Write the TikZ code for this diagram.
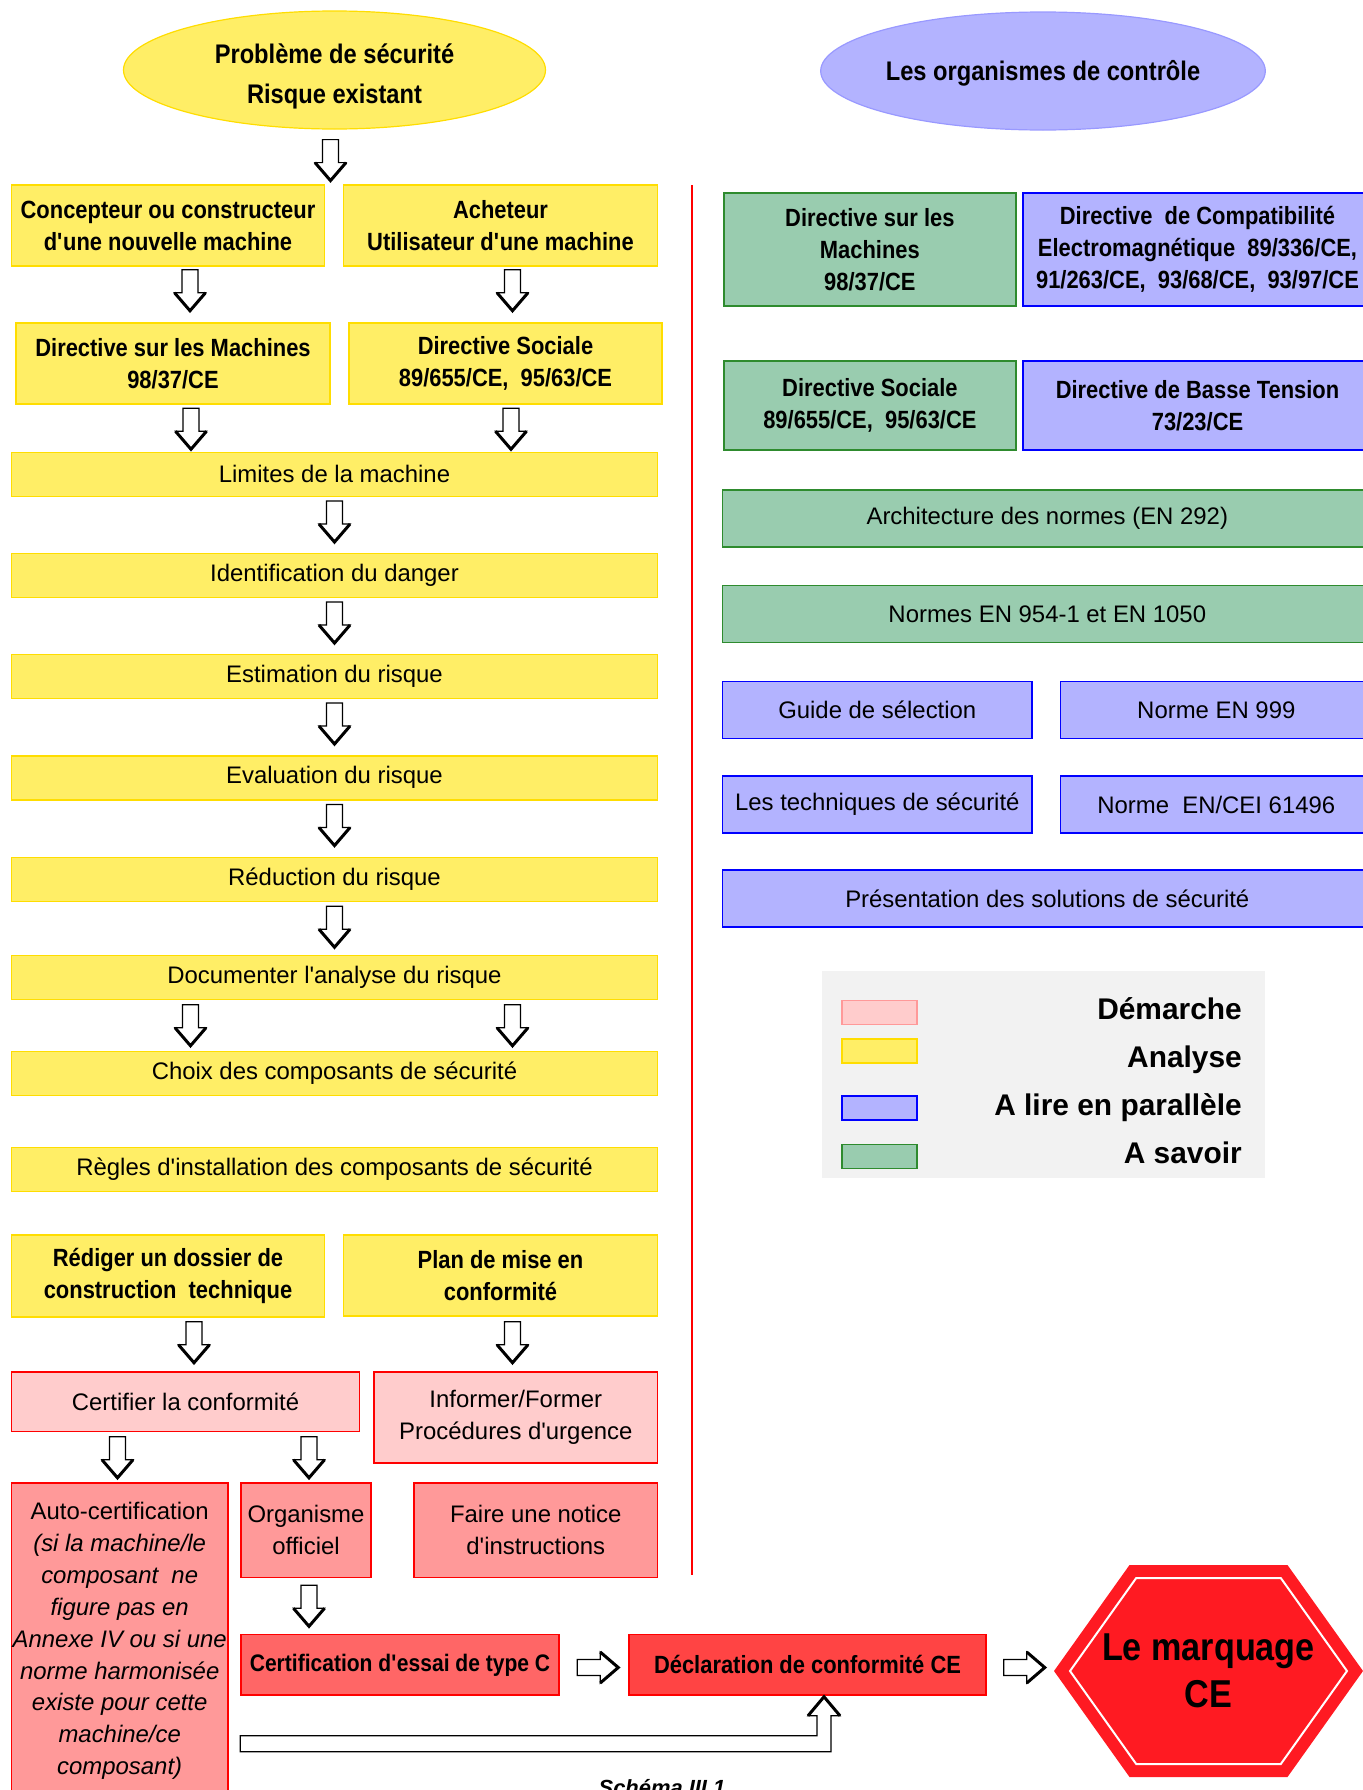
\documentclass[tikz,border=0pt]{standalone}
\usepackage{fontspec}
\setmainfont{Liberation Sans}
\newfontfamily\narrowfont{Liberation Sans}[FakeStretch=0.88]
\usepackage{xcolor}
\definecolor{cYellow}{HTML}{FFEE66}
\definecolor{cYellowD}{HTML}{FFDD00}
\definecolor{cPink}{HTML}{FFCCCC}
\definecolor{cRose}{HTML}{FF9999}
\definecolor{cCoral}{HTML}{FF6666}
\definecolor{cRed}{HTML}{FF4444}
\definecolor{cHex}{HTML}{FF1A22}
\definecolor{cLine}{HTML}{FF0000}
\definecolor{cBlue}{HTML}{B3B3FF}
\definecolor{cBlueD}{HTML}{0000FF}
\definecolor{cBlueL}{HTML}{9999FF}
\definecolor{cGreen}{HTML}{99CCAF}
\definecolor{cGreenD}{HTML}{2E8B2E}
\definecolor{cLegend}{HTML}{F2F2F2}
\usepackage{tikz}
\usetikzlibrary{calc,shapes.geometric}
\newcommand{\ap}{\textquotesingle}
\tikzset{
  txt-reg/.style={font=\fontsize{24}{32}\selectfont},
  txt-bold/.style={font=\fontsize{25}{32}\selectfont\narrowfont\bfseries},
  node-size/.style 2 args={minimum width=#1bp,minimum height=#2bp},
  node-box/.style={rectangle,inner sep=0pt,align=center,line width=1.5bp,txt-reg},
  node-ellipse/.style={ellipse,inner sep=0pt,align=center,line width=1.2bp,
    minimum width=422bp,minimum height=118bp,font=\fontsize{27}{40}\selectfont\narrowfont\bfseries},
  % codes couleur de la légende
  node-analyse/.style={fill=cYellow,draw=cYellowD},
  node-demarche/.style={fill=cPink,draw=cLine},
  node-demarche2/.style={fill=cRose,draw=cLine},
  node-lire/.style={fill=cBlue,draw=cBlueD},
  node-savoir/.style={fill=cGreen,draw=cGreenD},
  legend-swatch/.style={rectangle,inner sep=0pt,line width=1.2bp,node-size={75}{24}},
  legend-txt/.style={inner sep=0pt,font=\fontsize{30}{36}\selectfont\bfseries},
  block-line/.style={draw=black,fill=white,line width=1.2bp,line join=miter},
  block-head/.style={draw=black,line width=3bp,line join=miter},
  sep-line/.style={draw=cLine,line width=2bp},
  block-down/.pic={
    \draw[block-line] (-8,0) -- (-8,23) -- (-15.5,23) -- (0,41) -- (15.5,23) -- (8,23) -- (8,0) -- cycle;
    \draw[block-head] (-15.5,23) -- (0,41) -- (15.5,23);
  },
}

\begin{document}
\begin{tikzpicture}[x=1bp,y=-1bp]
  \useasboundingbox (0,0) rectangle (1363,1790);

  % colonne de gauche : la démarche
  \node[node-ellipse,fill=cYellow,draw=cYellowD] (pb) at (334.5,70) {\rule{0pt}{32bp}Problème de sécurité\\Risque existant};
  \node[node-box,node-analyse,txt-bold,node-size={313}{81}] (con) at (168,225.5) {Concepteur ou constructeur\\d\ap une nouvelle machine};
  \node[node-box,node-analyse,txt-bold,node-size={314}{81}] (ach) at (500.5,225.5) {Acheteur\\Utilisateur d\ap une machine};
  \node[node-box,node-analyse,txt-bold,node-size={314}{81}] (dm)  at (173,363.5) {Directive sur les Machines\\98/37/CE};
  \node[node-box,node-analyse,txt-bold,node-size={313}{81}] (ds)  at (505.5,363.5) {Directive Sociale\\89/655/CE,\ \ 95/63/CE};
  \node[node-box,node-analyse,node-size={646}{44}] (lim) at (334.5,474.3) {Limites de la machine};
  \node[node-box,node-analyse,node-size={646}{44}] (idf) at (334.5,575.3) {Identification du danger};
  \node[node-box,node-analyse,node-size={646}{44}] (est) at (334.5,676.3) {Estimation du risque};
  \node[node-box,node-analyse,node-size={646}{44}] (eva) at (334.5,777.8) {Evaluation du risque};
  \node[node-box,node-analyse,node-size={646}{44}] (rdc) at (334.5,879.5) {Réduction du risque};
  \node[node-box,node-analyse,node-size={646}{44}] (doc) at (334.5,977.5) {Documenter l\ap analyse du risque};
  \node[node-box,node-analyse,node-size={646}{44}] (cho) at (334.5,1073.5) {Choix des composants de sécurité};
  \node[node-box,node-analyse,node-size={646}{44}] (reg) at (334.5,1169.5) {Règles d\ap installation des composants de sécurité};
  \node[node-box,node-analyse,txt-bold,node-size={313}{82}] (rdg) at (168,1276) {Rédiger un dossier de\\construction\ \ technique};
  \node[node-box,node-analyse,txt-bold,node-size={314}{81}] (pla) at (500.5,1275.5) {Plan de mise en\\conformité};
  \node[node-box,node-demarche,node-size={348}{59.5}] (cer) at (185.5,1401.8) {Certifier la conformité};
  \node[node-box,node-demarche,node-size={283.5}{91}] (inf) at (515.8,1417.5) {Informer/Former\\Procédures d\ap urgence};
  \node[node-box,node-demarche2,node-size={216.6}{316}] (aut) at (119.7,1641) {Auto-certification\\\textit{(si la machine/le}\\\textit{composant\ \ ne}\\\textit{figure pas en}\\\textit{Annexe IV ou si une}\\\textit{norme harmonisée}\\\textit{existe pour cette}\\\textit{machine/ce}\\\textit{composant)}};
  \node[node-box,node-demarche2,node-size={130}{94.5}] (org) at (306,1530.3) {Organisme\\officiel};
  \node[node-box,node-demarche2,node-size={243.5}{94.5}] (fai) at (535.8,1530.3) {Faire une notice\\d\ap instructions};
  \node[node-box,fill=cCoral,draw=cLine,txt-bold,font=\fontsize{24}{32}\selectfont\narrowfont\bfseries,node-size={318}{60.4}] (cty) at (400,1664.8) {Certification d\ap essai de type C};
  \node[node-box,fill=cRed,draw=cLine,txt-bold,node-size={357}{60.4}] (dec) at (807.5,1664.8) {Déclaration de conformité CE};

  % le marquage CE
  \coordinate (mc) at (1208.5,1671);
  \fill[cHex] ($(mc)+(-154.5,0)$) -- ++(75.5,-106) -- ++(158,0) -- ++(75.5,106) -- ++(-75.5,106) -- ++(-158,0) -- cycle;
  \draw[white,line width=2bp] ($(mc)+(-138.5,0)$) -- ++(66.2,-93) -- ++(144.6,0) -- ++(66.2,93) -- ++(-66.2,93) -- ++(-144.6,0) -- cycle;
  \node[align=center,font=\fontsize{39}{47}\selectfont\narrowfont\bfseries] (marq) at (mc) {Le marquage\\CE};

  % flèches creuses
  \pic at ($(pb.south)+(-4,10)$) {block-down};
  \pic at ($(con.south)+(22,3)$) {block-down};
  \pic at ($(ach.south)+(12,3)$) {block-down};
  \pic at ($(dm.south)+(18,3.5)$) {block-down};
  \pic at ($(ds.south)+(5.5,3.5)$) {block-down};
  \foreach \a in {lim,idf,est,eva,rdc}
    \pic at ($(\a.south)+(0,4)$) {block-down};
  \pic at ($(doc.south)+(-144,4.5)$) {block-down};
  \pic at ($(doc.south)+(178,4.5)$) {block-down};
  \pic at ($(rdg.south)+(26,4)$) {block-down};
  \pic at ($(pla.south)+(12,5)$) {block-down};
  \pic at ($(cer.south)+(-68,4.5)$) {block-down};
  \pic at ($(cer.south)+(123.5,4.5)$) {block-down};
  \pic at ($(org.south)+(3,7)$) {block-down};
  \pic[rotate=90] at ($(cty.east)+(17.5,2.7)$) {block-down};
  \pic[rotate=90] at ($(dec.east)+(17,2.7)$) {block-down};
  \coordinate (rs) at ($(cty.south west)+(0,40)$);
  \draw[block-line] (rs) -- ($(dec.south)+(9.5,40)$) -- ++(0,-20) -- ++(-9,0) -- ++(16,-19)
    -- ++(16,19) -- ++(-9,0) -- ++(0,36) -- ($(rs)+(0,16)$) -- cycle;
  \draw[block-head] ($(dec.south)+(0.5,20)$) -- ++(16,-19) -- ++(16,19);

  % séparation
  \draw[sep-line] (692,185) -- (692,1575);

  % colonne de droite : les organismes de contrôle
  \node[node-ellipse,fill=cBlue,draw=cBlueL] (oc) at (1043,71) {\rule{0pt}{24bp}Les organismes de contrôle};
  \node[node-box,node-savoir,txt-bold,node-size={292.3}{113}] (gdm) at (869.9,249.5) {Directive sur les\\Machines\\98/37/CE};
  \node[node-box,node-lire,txt-bold,node-size={349}{113}] (gce) at (1197.5,249.5) {Directive\ \ de Compatibilité\\Electromagnétique\ \ 89/336/CE,\\91/263/CE,\ \ 93/68/CE,\ \ 93/97/CE};
  \node[node-box,node-savoir,txt-bold,node-size={292.3}{89}] (gds) at (869.9,405.3) {Directive Sociale\\89/655/CE,\ \ 95/63/CE};
  \node[node-box,node-lire,txt-bold,node-size={349}{89}] (gbt) at (1197.5,405.3) {Directive de Basse Tension\\73/23/CE};
  \node[node-box,node-savoir,node-size={649.4}{57}] (arc) at (1047.3,518.3) {Architecture des normes (EN 292)};
  \node[node-box,node-savoir,node-size={649.4}{57}] (nor) at (1047.3,614.2) {Normes EN 954-1 et EN 1050};
  \node[node-box,node-lire,node-size={309.4}{57}] (gui) at (877.3,710) {Guide de sélection};
  \node[node-box,node-lire,node-size={311.5}{57}] (n999) at (1216.3,710) {Norme EN 999};
  \node[node-box,node-lire,node-size={309.4}{57}] (tec) at (877.3,804.5) {Les techniques de sécurité};
  \node[node-box,node-lire,node-size={311.5}{57}] (n614) at (1216.3,804.5) {Norme\ \ EN/CEI 61496};
  \node[node-box,node-lire,node-size={649.4}{57}] (pre) at (1047.3,898.5) {Présentation des solutions de sécurité};

  % légende
  \fill[cLegend] (822,971) rectangle (1265,1178);
  \node[legend-swatch,fill=cPink,draw=cRose]      (sw1) at (879.5,1012.5) {};
  \node[legend-swatch,fill=cYellow,draw=cYellowD] (sw2) at (879.5,1051) {};
  \node[legend-swatch,fill=cBlue,draw=cBlueD]     (sw3) at (879.5,1108) {};
  \node[legend-swatch,fill=cGreen,draw=cGreenD]   (sw4) at (879.5,1156.5) {};
  \node[legend-txt,anchor=base east] (lg1) at (1242,1019) {Démarche};
  \node[legend-txt,anchor=base east] (lg2) at (1242,1067) {Analyse};
  \node[legend-txt,anchor=base east] (lg3) at (1242,1115) {A lire en parallèle};
  \node[legend-txt,anchor=base east] (lg4) at (1242,1163) {A savoir};

  \node[anchor=north,inner sep=0pt,font=\fontsize{22}{26}\selectfont\bfseries\itshape] (cap) at (662,1779) {Schéma III.1};
\end{tikzpicture}
\end{document}
